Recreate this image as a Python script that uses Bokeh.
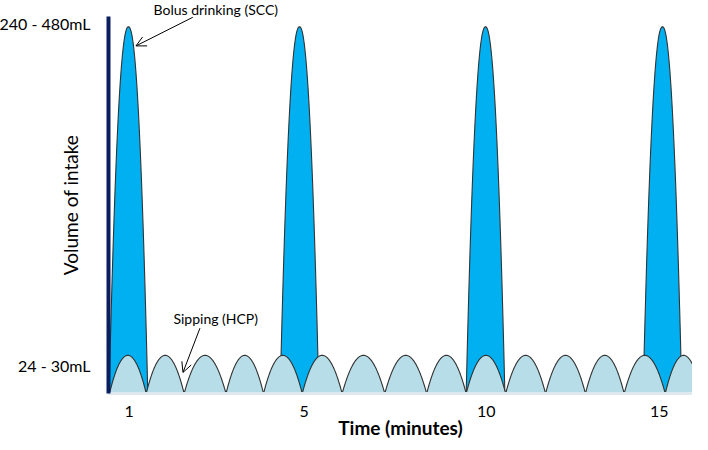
import numpy as np
from bokeh.plotting import figure
from bokeh.models import FixedTicker, Label, Arrow, OpenHead, Range1d
from bokeh.embed import file_html
from bokeh.resources import INLINE

# ---- data (conceptual diagram, x in "sip interval" units, y in "sip height" units)
sip_starts = [0.0, 0.93, 1.89, 2.95, 3.90, 4.88, 5.89, 6.97, 8.03, 9.03,
              10.03, 11.04, 12.05, 13.03, 14.07]
sip_ends = [0.93, 1.89, 2.95, 3.90, 4.88, 5.89, 6.97, 8.03, 9.03, 10.03,
            11.04, 12.05, 13.03, 14.07, 15.0]
sip_height = 1.0

bolus_centers = [0.48, 4.81, 9.52, 14.0]
bolus_height = 9.6
bolus_halfwidth = 0.49

x_tick_positions = [0.50, 4.93, 9.54, 13.92]
x_tick_labels = ["1", "5", "10", "15"]
y_tick_positions = [0.74, 9.68]
y_tick_labels = ["24 - 30mL", "240 - 480mL"]

FONT = "Lato"
SPIKE_FILL = "#00b0f0"
SIP_FILL = "#b7dee8"
OUTLINE = "#333333"
NAVY = "#0b1f5e"

p = figure(width=692, height=442, output_backend="svg", toolbar_location=None,
           x_range=Range1d(-0.025, 14.76), y_range=Range1d(0, 9.87),
           min_border_left=108, min_border_right=0, min_border_top=0,
           min_border_bottom=49, background_fill_color="white",
           border_fill_color="white", title="Bolus drinking (SCC)")
p.outline_line_color = None
p.grid.visible = False

p.title.align = "left"
p.title.offset = 45
p.title.standoff = -3
p.title.text_font = FONT
p.title.text_font_size = "14px"
p.title.text_font_style = "normal"
p.title.text_color = "black"

# bolus spikes
sx, sy = [], []
for c in bolus_centers:
    t = np.linspace(-1, 1, 121)
    sx.append(list(c + bolus_halfwidth * t))
    sy.append(list(bolus_height * (1 - np.abs(t) ** 2.2)))
p.patches(sx, sy, fill_color=SPIKE_FILL, line_color=None)
p.multi_line(sx, sy, line_color=OUTLINE, line_width=1.1)

# sipping arches
ax, ay = [], []
for s, e in zip(sip_starts, sip_ends):
    t = np.linspace(0, 1, 61)
    ax.append(list(s + (e - s) * t))
    ay.append(list(sip_height * (1 - (2 * t - 1) ** 2)))
p.patches(ax, ay, fill_color=SIP_FILL, line_color=None)
p.multi_line(ax, ay, line_color=OUTLINE, line_width=1.1)

# x axis
p.xaxis.ticker = FixedTicker(ticks=x_tick_positions)
p.xaxis.major_label_overrides = dict(zip(x_tick_positions, x_tick_labels))
p.xaxis.axis_line_color = "#dde9ee"
p.xaxis.axis_line_width = 3
p.xaxis.major_tick_line_color = None
p.xaxis.minor_tick_line_color = None
p.xaxis.major_label_standoff = 6
p.xaxis.major_label_text_font = FONT
p.xaxis.major_label_text_font_size = "16px"
p.xaxis.major_label_text_color = "black"
p.xaxis.axis_label = "Time (minutes)"
p.xaxis.axis_label_standoff = -4
p.xaxis.axis_label_text_font = FONT
p.xaxis.axis_label_text_font_size = "19px"
p.xaxis.axis_label_text_font_style = "bold"
p.xaxis.axis_label_text_color = "black"

# y axis
p.yaxis.ticker = FixedTicker(ticks=y_tick_positions)
p.yaxis.major_label_overrides = dict(zip(y_tick_positions, y_tick_labels))
p.yaxis.axis_line_color = NAVY
p.yaxis.axis_line_width = 4
p.yaxis.major_tick_line_color = None
p.yaxis.minor_tick_line_color = None
p.yaxis.major_label_standoff = 12
p.yaxis.major_label_text_font = FONT
p.yaxis.major_label_text_font_size = "16px"
p.yaxis.major_label_text_color = "black"
p.yaxis.axis_label = "Volume of intake"
p.yaxis.axis_label_standoff = -86
p.yaxis.axis_label_text_font = FONT
p.yaxis.axis_label_text_font_size = "19px"
p.yaxis.axis_label_text_font_style = "normal"
p.yaxis.axis_label_text_color = "black"

# annotations
p.add_layout(Arrow(end=OpenHead(size=10, line_width=1, line_color="black"),
                   x_start=2.11, y_start=9.85, x_end=0.67, y_end=9.1,
                   line_color="black", line_width=1))
p.add_layout(Label(x=2.69, y=1.97, text="Sipping (HCP)",
                   text_align="center", text_baseline="middle",
                   text_font=FONT, text_font_size="14px", text_color="black"))
p.add_layout(Arrow(end=OpenHead(size=10, line_width=1, line_color="black"),
                   x_start=2.29, y_start=1.71, x_end=1.86, y_end=0.55,
                   line_color="black", line_width=1))

open("out.html", "w").write(file_html(p, INLINE))
